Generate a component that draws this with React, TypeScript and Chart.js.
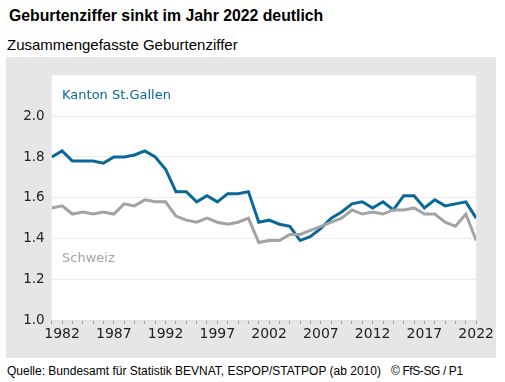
import React, { useEffect, useRef } from "react";
import { Chart, registerables } from "chart.js";

Chart.register(...registerables);

const years: number[] = [
  1981, 1982, 1983, 1984, 1985, 1986, 1987, 1988, 1989, 1990,
  1991, 1992, 1993, 1994, 1995, 1996, 1997, 1998, 1999, 2000,
  2001, 2002, 2003, 2004, 2005, 2006, 2007, 2008, 2009, 2010,
  2011, 2012, 2013, 2014, 2015, 2016, 2017, 2018, 2019, 2020,
  2021, 2022,
];

const stGallen: number[] = [
  1.8, 1.83, 1.78, 1.78, 1.78, 1.77, 1.8, 1.8, 1.81, 1.83,
  1.8, 1.74, 1.63, 1.63, 1.58, 1.61, 1.58, 1.62, 1.62, 1.63,
  1.48, 1.49, 1.47, 1.46, 1.39, 1.41, 1.45, 1.5, 1.53, 1.57,
  1.58, 1.55, 1.58, 1.54, 1.61, 1.61, 1.55, 1.59, 1.56, 1.57,
  1.58, 1.5,
];

const schweiz: number[] = [
  1.55, 1.56, 1.52, 1.53, 1.52, 1.53, 1.52, 1.57, 1.56, 1.59,
  1.58, 1.58, 1.51, 1.49, 1.48, 1.5, 1.48, 1.47, 1.48, 1.5,
  1.38, 1.39, 1.39, 1.42, 1.42, 1.44, 1.46, 1.48, 1.5, 1.54,
  1.52, 1.53, 1.52, 1.54, 1.54, 1.55, 1.52, 1.52, 1.48, 1.46,
  1.52, 1.39,
];

const seriesNames: string[] = ["Kanton St.Gallen", "Schweiz"];
const labelAnchors: { x: number; y: number }[] = [
  { x: 1982, y: 2.1 },
  { x: 1982, y: 1.3 },
];

const BLUE = "#0a6898";
const GRAY = "#a3a3a3";
const PANEL = "#e6e6e6";

export default function App() {
  const ref = useRef<HTMLCanvasElement | null>(null);

  useEffect(() => {
    if (!ref.current) return;
    const colors = [BLUE, GRAY];
    const bgPlugin = {
      id: "bgPlugin",
      beforeDraw(chart: any) {
        const { ctx, chartArea } = chart;
        ctx.save();
        ctx.fillStyle = "#ffffff";
        ctx.fillRect(
          chartArea.left,
          chartArea.top,
          chartArea.right - chartArea.left,
          chartArea.bottom - chartArea.top
        );
        ctx.restore();
      },
      afterDatasetsDraw(chart: any) {
        const { ctx, scales } = chart;
        ctx.save();
        ctx.font = '13px "DejaVu Sans"';
        ctx.textAlign = "left";
        ctx.textBaseline = "middle";
        seriesNames.forEach((name, i) => {
          ctx.fillStyle = colors[i];
          ctx.fillText(
            name,
            scales.x.getPixelForValue(labelAnchors[i].x),
            scales.y.getPixelForValue(labelAnchors[i].y)
          );
        });
        ctx.restore();
      },
    };

    const chart = new Chart(ref.current, {
      type: "line",
      data: {
        datasets: [
          {
            label: seriesNames[1],
            data: years.map((y, i) => ({ x: y, y: schweiz[i] })),
            borderColor: GRAY,
            borderWidth: 3,
            pointRadius: 0,
            tension: 0,
          },
          {
            label: seriesNames[0],
            data: years.map((y, i) => ({ x: y, y: stGallen[i] })),
            borderColor: BLUE,
            borderWidth: 3,
            pointRadius: 0,
            tension: 0,
          },
        ],
      },
      options: {
        animation: false,
        responsive: false,
        maintainAspectRatio: false,
        layout: { padding: { left: 0, right: 19, top: 18.5, bottom: 0 } },
        plugins: {
          legend: { display: false },
          tooltip: { enabled: false },
        },
        scales: {
          x: {
            type: "linear",
            min: 1981,
            max: 2022,
            border: { display: true, color: "#e0e0e0" },
            grid: {
              drawOnChartArea: false,
              drawTicks: true,
              tickLength: 4,
              tickColor: "#9a9a9a",
            },
            ticks: {
              stepSize: 1,
              autoSkip: false,
              maxRotation: 0,
              padding: 2,
              color: "#222222",
              font: { family: "DejaVu Sans", size: 14 },
              callback: (v: any) => ((Number(v) - 1982) % 5 === 0 ? String(v) : ""),
            },
            afterFit: (s: any) => {
              s.height = 38;
            },
          },
          y: {
            min: 1.0,
            max: 2.2,
            border: { display: false },
            grid: {
              drawTicks: false,
              color: (c: any) =>
                c.tick && (Math.abs(c.tick.value - 2.2) < 1e-6 || Math.abs(c.tick.value - 1.0) < 1e-6)
                  ? "rgba(0,0,0,0)"
                  : "#ececec",
              lineWidth: 1,
            },
            ticks: {
              stepSize: 0.2,
              padding: 7,
              color: "#222222",
              font: { family: "DejaVu Sans", size: 13.5 },
              callback: (v: any) =>
                Math.abs(Number(v) - 2.2) < 1e-6 ? "" : Number(v).toFixed(1),
            },
            afterFit: (s: any) => {
              s.width = 45.7;
            },
          },
        },
      },
      plugins: [bgPlugin],
    } as any);
    return () => chart.destroy();
  }, []);

  return (
    <div
      style={{
        position: "absolute",
        left: 0,
        top: 0,
        width: 505,
        height: 382,
        background: "#ffffff",
        fontFamily: '"Liberation Sans", Arial, sans-serif',
        color: "#000",
      }}
    >
      <div
        style={{
          position: "absolute",
          left: 9,
          top: 7,
          fontSize: 15.8,
          fontWeight: "bold",
          whiteSpace: "nowrap",
          lineHeight: "normal",
        }}
      >
        Geburtenziffer sinkt im Jahr 2022 deutlich
      </div>
      <div
        style={{
          position: "absolute",
          left: 7,
          top: 36,
          fontSize: 15,
          whiteSpace: "nowrap",
          lineHeight: "normal",
        }}
      >
        Zusammengefasste Geburtenziffer
      </div>
      <div
        style={{
          position: "absolute",
          left: 6,
          top: 57,
          width: 490,
          height: 301,
          background: PANEL,
        }}
      >
        <canvas ref={ref} width={490} height={301} style={{ display: "block" }} />
      </div>
      <div
        style={{
          position: "absolute",
          left: 7,
          top: 364,
          fontSize: 12,
          whiteSpace: "nowrap",
          lineHeight: "normal",
        }}
      >
        Quelle: Bundesamt für Statistik BEVNAT, ESPOP/STATPOP (ab 2010)
      </div>
      <div
        style={{
          position: "absolute",
          left: 391,
          top: 364,
          fontSize: 12,
          letterSpacing: -0.4,
          whiteSpace: "nowrap",
          lineHeight: "normal",
        }}
      >
        © FfS-SG / P1
      </div>
    </div>
  );
}
